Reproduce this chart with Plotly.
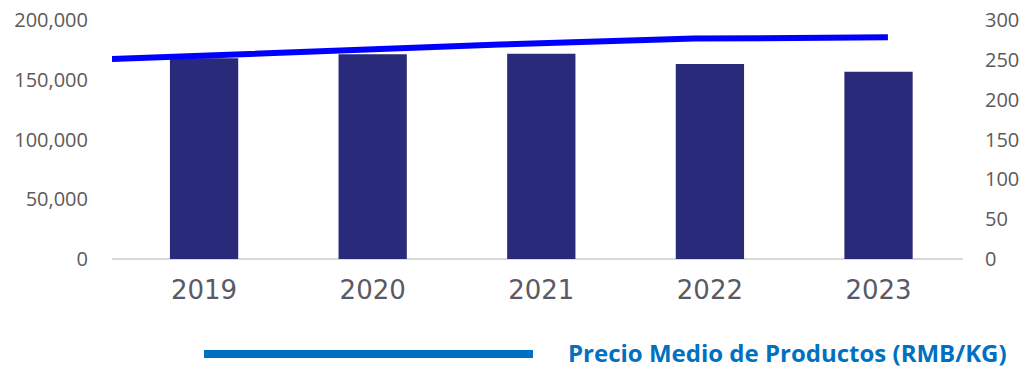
import plotly.graph_objects as go

years = ["2019", "2020", "2021", "2022", "2023"]
volume = [168000, 171300, 171800, 163200, 156700]
price = [251.0, 260.3, 269.2, 276.7, 278.2]
left_ticks = [0, 50000, 100000, 150000, 200000]
right_ticks = [0, 50, 100, 150, 200, 250, 300]
legend_label = "Precio Medio de Productos (RMB/KG)"

TICK_FONT = dict(family="Open Sans", size=20, color="#5e5a58")

PL, PR, PT, PB = 112, 963, 20, 259  # plot area in window pixels
W, H = 1027, 369
PW, PH = PR - PL, PB - PT

fig = go.Figure()
fig.add_trace(go.Bar(x=years, y=volume, marker=dict(color="#2a2a7a", line=dict(width=0)),
                     xaxis="x", yaxis="y", showlegend=False))
fig.add_trace(go.Scatter(x=years, y=price, mode="lines", line=dict(color="#0000ff", width=6),
                         xaxis="x2", yaxis="y2", showlegend=False))

fig.update_layout(
    width=W, height=H,
    margin=dict(l=PL, r=W - PR, t=PT, b=H - PB),
    paper_bgcolor="white", plot_bgcolor="white",
    bargap=0.595,
    xaxis=dict(type="category", range=[-0.546, 4.501], showgrid=False, zeroline=False,
               showline=False, ticks="", automargin=False, ticklabeloverflow="allow",
               tickfont=dict(family="DejaVu Sans", size=26, color="#5a5a66"),
               ticklabelstandoff=13),
    xaxis2=dict(type="category", overlaying="x", range=[0, 4.387], visible=False,
                automargin=False),
    yaxis=dict(range=[0, 200000], tickvals=left_ticks, tickformat=",", showgrid=False,
               zeroline=False, showline=False, tickfont=TICK_FONT, ticklabelstandoff=23,
               automargin=False, ticklabeloverflow="allow"),
    yaxis2=dict(range=[0, 300], tickvals=right_ticks, overlaying="y", side="right",
                showgrid=False, zeroline=False, showline=False, tickfont=TICK_FONT,
                ticklabelstandoff=21, automargin=False, ticklabeloverflow="allow"),
    shapes=[
        dict(type="line", xref="paper", yref="paper", x0=0, x1=1, y0=0, y1=0,
             line=dict(color="#d9d9d9", width=2), layer="below"),
        dict(type="line", xref="paper", yref="paper",
             x0=(204 - PL) / PW, x1=(533 - PL) / PW,
             y0=(PB - 354) / PH, y1=(PB - 354) / PH,
             line=dict(color="#0070c0", width=8)),
    ],
    annotations=[
        dict(text="<b>" + legend_label + "</b>", xref="paper", yref="paper",
             x=(566 - PL) / PW, y=(PB - 352) / PH, xanchor="left", yanchor="middle",
             showarrow=False, font=dict(family="Open Sans", size=24, color="#0070c0")),
    ],
)

fig.write_html("out.html", config={"displayModeBar": False},
               post_script="document.body.style.margin='0';")
